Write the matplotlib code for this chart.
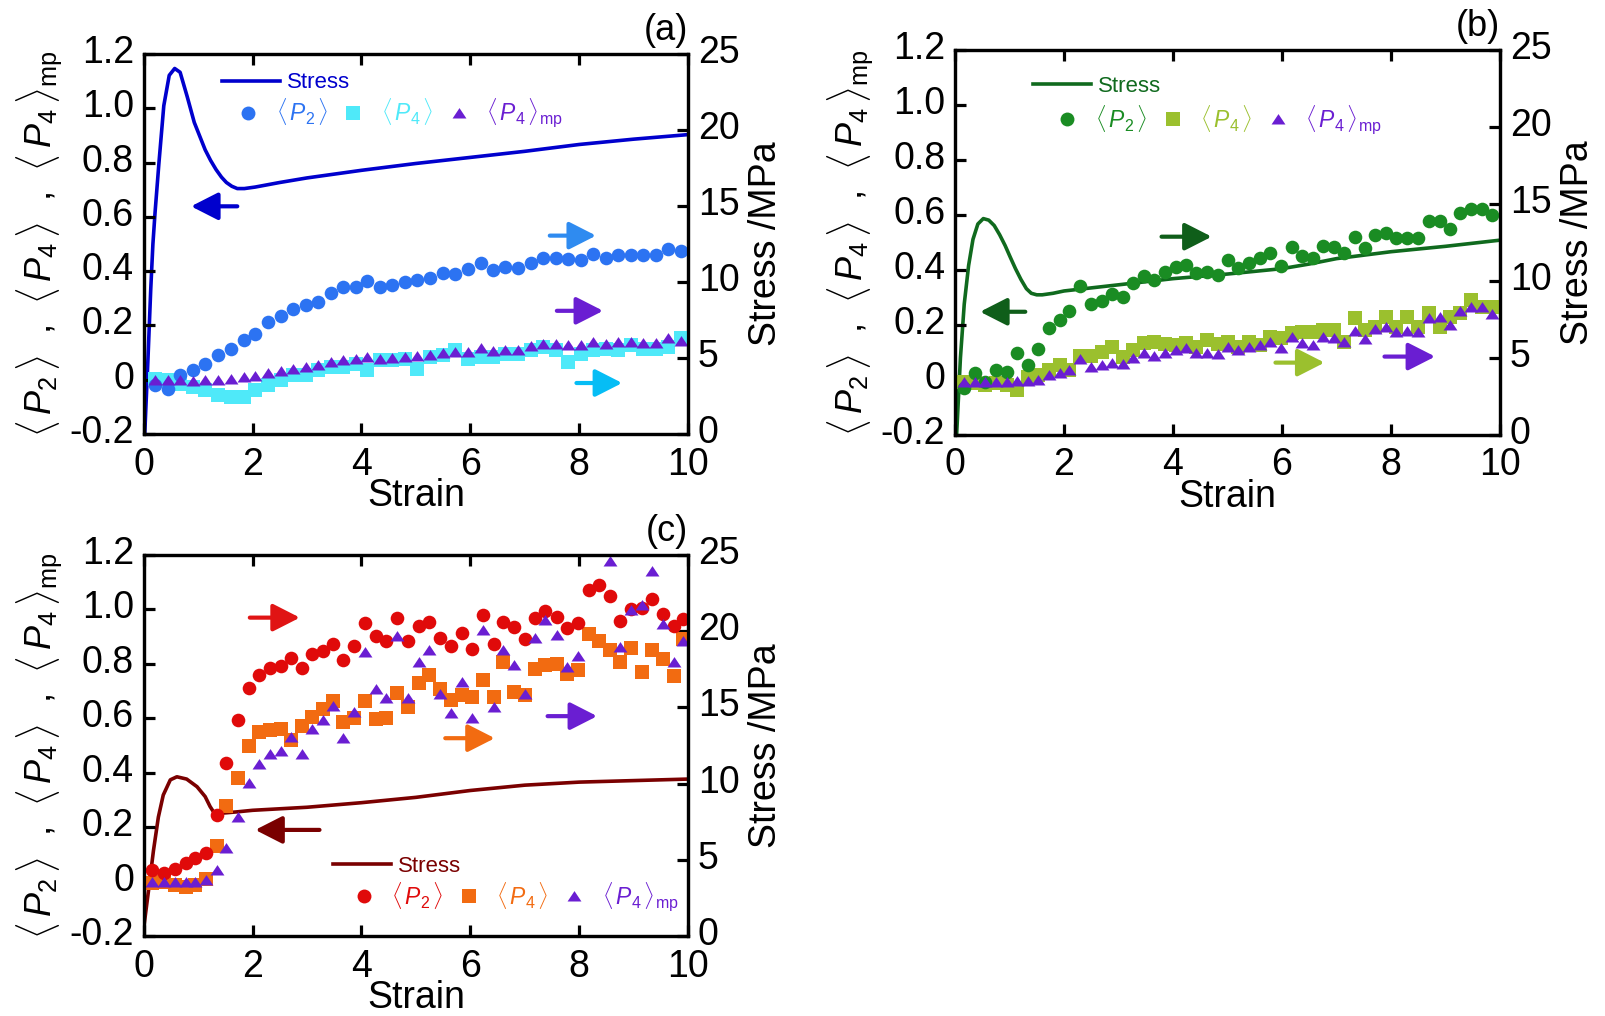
import matplotlib
matplotlib.use('Agg')
import matplotlib.pyplot as plt
from matplotlib.lines import Line2D
from matplotlib.transforms import ScaledTranslation

plt.rcParams['font.family'] = ['Liberation Sans', 'DejaVu Sans']
plt.rcParams['mathtext.fontset'] = 'custom'
plt.rcParams['mathtext.rm'] = 'Liberation Sans'
plt.rcParams['mathtext.it'] = 'Liberation Sans:italic'
plt.rcParams['mathtext.bf'] = 'Liberation Sans:bold'

# ---- panel (a) ----
strain_a = [0.20, 0.44, 0.67, 0.90, 1.13, 1.36, 1.61, 1.84, 2.05, 2.28, 2.52, 2.75, 2.98, 3.21,
            3.44, 3.67, 3.90, 4.11, 4.34, 4.57, 4.80, 5.03, 5.26, 5.50, 5.72, 5.95, 6.19, 6.41,
            6.64, 6.88, 7.11, 7.34, 7.57, 7.80, 8.03, 8.26, 8.49, 8.72, 8.95, 9.18, 9.41, 9.63, 9.87]
p2_a = [-0.021, -0.033, 0.016, 0.035, 0.059, 0.090, 0.115, 0.148, 0.170, 0.213, 0.234, 0.259, 0.275,
        0.288, 0.318, 0.341, 0.341, 0.365, 0.343, 0.349, 0.359, 0.368, 0.374, 0.392, 0.390, 0.407,
        0.429, 0.405, 0.417, 0.411, 0.429, 0.448, 0.450, 0.444, 0.442, 0.463, 0.450, 0.460, 0.460,
        0.460, 0.460, 0.481, 0.473]
p4_a = [0.004, -0.002, -0.015, -0.027, -0.039, -0.058, -0.064, -0.062, -0.039, -0.021, -0.002, 0.016,
        0.016, 0.035, 0.047, 0.047, 0.059, 0.035, 0.072, 0.072, 0.078, 0.041, 0.084, 0.090, 0.109,
        0.078, 0.084, 0.084, 0.096, 0.096, 0.109, 0.121, 0.109, 0.065, 0.096, 0.109, 0.115, 0.109,
        0.127, 0.115, 0.115, 0.121, 0.152]
p4mp_a = [-0.002, 0.0, -0.002, -0.005, -0.002, 0.0, 0.004, 0.010, 0.012, 0.025, 0.031, 0.041, 0.047,
          0.053, 0.065, 0.074, 0.078, 0.084, 0.078, 0.080, 0.084, 0.086, 0.093, 0.099, 0.102, 0.102,
          0.118, 0.106, 0.111, 0.109, 0.123, 0.131, 0.131, 0.127, 0.127, 0.139, 0.131, 0.139, 0.139,
          0.136, 0.136, 0.152, 0.143]
stress_x_a = [0.02, 0.08, 0.13, 0.17, 0.21, 0.28, 0.37, 0.47, 0.57, 0.67, 0.80, 0.93, 1.03, 1.13,
              1.23, 1.33, 1.43, 1.52, 1.62, 1.72, 1.85, 2.05, 2.5, 3.0, 3.5, 4.0, 5.0, 6.0, 7.0,
              8.0, 9.0, 10.0]
stress_a = [0.0, 5.0, 9.5, 12.5, 14.6, 17.8, 21.6, 23.6, 24.05, 23.8, 22.2, 20.5, 19.6, 18.7,
            18.0, 17.4, 16.9, 16.55, 16.3, 16.15, 16.15, 16.25, 16.55, 16.85, 17.1, 17.35, 17.8,
            18.2, 18.6, 19.05, 19.4, 19.7]

# ---- panel (b) ----
strain_b = [0.16, 0.36, 0.56, 0.75, 0.95, 1.14, 1.34, 1.52, 1.73, 1.93, 2.10, 2.30, 2.50, 2.69,
            2.89, 3.08, 3.27, 3.46, 3.66, 3.86, 4.05, 4.24, 4.43, 4.63, 4.82, 5.00, 5.20, 5.39,
            5.59, 5.78, 5.98, 6.18, 6.37, 6.57, 6.76, 6.96, 7.14, 7.34, 7.52, 7.71, 7.91, 8.10,
            8.30, 8.50, 8.69, 8.89, 9.08, 9.27, 9.46, 9.66, 9.86]
p2_b = [-0.030, 0.024, -0.006, 0.036, 0.030, 0.097, 0.055, 0.112, 0.188, 0.218, 0.252, 0.342, 0.275,
        0.287, 0.313, 0.301, 0.351, 0.378, 0.364, 0.391, 0.412, 0.417, 0.388, 0.394, 0.382, 0.436,
        0.406, 0.427, 0.442, 0.461, 0.415, 0.485, 0.451, 0.442, 0.487, 0.482, 0.461, 0.521, 0.479,
        0.527, 0.533, 0.515, 0.515, 0.515, 0.579, 0.579, 0.548, 0.608, 0.621, 0.621, 0.600]
p4_b = [-0.006, -0.012, -0.018, -0.012, -0.018, -0.036, 0.010, 0.018, 0.036, 0.055, 0.036, 0.087,
        0.087, 0.103, 0.121, 0.085, 0.109, 0.133, 0.139, 0.131, 0.127, 0.133, 0.121, 0.145, 0.131,
        0.139, 0.121, 0.139, 0.127, 0.158, 0.152, 0.170, 0.176, 0.176, 0.182, 0.182, 0.139, 0.224,
        0.182, 0.194, 0.230, 0.194, 0.230, 0.194, 0.242, 0.194, 0.230, 0.242, 0.291, 0.267, 0.267]
p4mp_b = [-0.006, -0.006, -0.006, -0.006, -0.006, -0.002, -0.002, 0.0, 0.018, 0.027, 0.036, 0.075,
          0.046, 0.055, 0.063, 0.058, 0.079, 0.097, 0.087, 0.099, 0.109, 0.115, 0.097, 0.097, 0.095,
          0.121, 0.109, 0.119, 0.127, 0.139, 0.115, 0.155, 0.133, 0.127, 0.158, 0.152, 0.139, 0.179,
          0.148, 0.184, 0.191, 0.176, 0.179, 0.176, 0.224, 0.230, 0.200, 0.252, 0.267, 0.264, 0.240]
stress_x_b = [0.03, 0.10, 0.17, 0.25, 0.33, 0.42, 0.52, 0.62, 0.72, 0.82, 0.92, 1.02, 1.11, 1.21,
              1.31, 1.40, 1.50, 1.60, 1.80, 2.0, 3.0, 4.0, 5.0, 6.0, 6.5, 7.0, 8.0, 9.0, 10.0]
stress_b = [0.0, 5.0, 8.5, 11.0, 12.7, 13.7, 14.05, 13.95, 13.6, 13.0, 12.3, 11.5, 10.8, 10.1,
            9.5, 9.2, 9.1, 9.1, 9.2, 9.35, 9.75, 10.15, 10.45, 10.8, 11.1, 11.45, 11.9, 12.25, 12.65]

# ---- panel (c) ----
strain_c = [0.16, 0.37, 0.57, 0.77, 0.95, 1.14, 1.34, 1.52, 1.73, 1.93, 2.12, 2.32, 2.52, 2.71,
            2.91, 3.10, 3.29, 3.48, 3.67, 3.87, 4.07, 4.26, 4.46, 4.66, 4.85, 5.05, 5.25, 5.44,
            5.64, 5.84, 6.03, 6.23, 6.43, 6.60, 6.80, 7.00, 7.18, 7.38, 7.59, 7.78, 7.98, 8.18,
            8.37, 8.57, 8.75, 8.95, 9.15, 9.34, 9.54, 9.74, 9.91]
p2_c = [0.042, 0.030, 0.048, 0.067, 0.087, 0.105, 0.246, 0.436, 0.594, 0.711, 0.760, 0.784, 0.791,
        0.821, 0.784, 0.836, 0.848, 0.873, 0.814, 0.864, 0.949, 0.901, 0.885, 0.970, 0.885, 0.939,
        0.954, 0.897, 0.864, 0.913, 0.854, 0.978, 0.873, 0.954, 0.937, 0.893, 0.970, 0.994, 0.973,
        0.933, 0.949, 1.073, 1.091, 1.048, 0.958, 1.000, 1.006, 1.039, 0.985, 0.939, 0.966]
p4_c = [-0.006, 0.0, -0.012, -0.018, -0.012, 0.008, 0.130, 0.279, 0.379, 0.497, 0.549, 0.558, 0.561,
        0.521, 0.570, 0.606, 0.636, 0.663, 0.588, 0.600, 0.663, 0.598, 0.602, 0.694, 0.642, 0.731,
        0.758, 0.709, 0.667, 0.685, 0.679, 0.739, 0.679, 0.808, 0.697, 0.687, 0.782, 0.796, 0.800,
        0.764, 0.776, 0.911, 0.885, 0.851, 0.806, 0.857, 0.772, 0.851, 0.818, 0.755, 0.891]
p4mp_c = [0.0, 0.0, 0.0, 0.0, 0.0, 0.005, 0.042, 0.125, 0.236, 0.364, 0.433, 0.469, 0.481, 0.533,
          0.469, 0.561, 0.594, 0.646, 0.527, 0.624, 0.842, 0.707, 0.675, 0.903, 0.675, 0.806, 0.852,
          0.691, 0.618, 0.733, 0.600, 0.925, 0.642, 0.852, 0.797, 0.691, 0.897, 0.961, 0.907, 0.788,
          0.828, 1.26, 1.24, 1.179, 0.861, 0.997, 1.016, 1.142, 0.948, 0.806, 0.885]
stress_x_c = [0.0, 0.09, 0.18, 0.27, 0.36, 0.49, 0.61, 0.79, 0.98, 1.13, 1.22, 1.31, 1.40, 1.72,
              2.0, 3.0, 4.0, 5.0, 6.0, 7.0, 8.0, 9.0, 10.0]
stress_c = [0.5, 3.0, 5.6, 7.8, 9.25, 10.25, 10.45, 10.3, 9.8, 9.15, 8.5, 8.0, 8.05, 8.15,
            8.25, 8.45, 8.75, 9.1, 9.55, 9.9, 10.1, 10.2, 10.3]

y_ticks = [-0.2, 0, 0.2, 0.4, 0.6, 0.8, 1.0, 1.2]
y_ticklabels = ['-0.2', '0', '0.2', '0.4', '0.6', '0.8', '1.0', '1.2']
stress_ticks = [0, 5, 10, 15, 20, 25]
strain_ticks = [0, 2, 4, 6, 8, 10]

PURPLE = '#6A1ED2'
TRI = [(-1, -0.72), (1, -0.72), (0, 0.78)]
LBL_P2 = r'$\langle\,P_2\,\rangle$'
LBL_P4 = r'$\langle\,P_4\,\rangle$'
LBL_MP = r'$\langle\,P_4\,\rangle_{\rm mp}$'
YLABEL = (r'$\langle\,P_2\,\rangle$  ,  $\langle\,P_4\,\rangle$  ,  '
          r'$\langle\,P_4\,\rangle_{\rm mp}$')

fig = plt.figure(figsize=(16.05, 10.16), dpi=100)
lift = ScaledTranslation(0, 5 / 100, fig.dpi_scale_trans)   # y tick labels sit a bit high


def panel(rect, tag, strain, p2, p4, p4mp, sx, sy, c_s, c_p2, c_p4, arrows, leg1, leg2):
    ax = fig.add_axes(rect)
    ax2 = ax.twinx()
    ax.set_zorder(ax2.get_zorder() + 1)
    ax.patch.set_visible(False)

    ax2.plot(sx, sy, color=c_s, lw=2.6, solid_capstyle='round')
    ax.plot(strain, p4, ls='', marker='s', ms=9.5, color=c_p4, mew=0)
    ax.plot(strain, p2, ls='', marker='o', ms=9.8, color=c_p2, mew=0)
    ax.plot(strain, p4mp, ls='', marker=TRI, ms=10, color=PURPLE, mew=0)

    ax.set_xlim(0, 10)
    ax.set_ylim(-0.2, 1.2)
    ax2.set_ylim(0, 25)
    ax.set_xticks(strain_ticks)
    ax.set_yticks(y_ticks)
    ax.set_yticklabels(y_ticklabels)
    ax2.set_yticks(stress_ticks)
    for a in (ax, ax2):
        for sp in a.spines.values():
            sp.set_linewidth(2.3)
    ax.tick_params(direction='in', length=8, width=2.3, labelsize=27, pad=7, top=True)
    ax.tick_params(axis='x', pad=9)
    ax2.tick_params(direction='in', length=8, width=2.3, labelsize=27, pad=7)
    for lab in ax.get_yticklabels() + ax2.get_yticklabels():
        lab.set_transform(lab.get_transform() + lift)
    ax.set_xlabel('Strain', fontsize=27, labelpad=-3)
    ax.set_ylabel(YLABEL, fontsize=26, labelpad=4)
    ax2.set_ylabel('Stress /MPa', fontsize=27, labelpad=6)
    ax.text(1.0, 1.015, tag, transform=ax.transAxes, ha='right', va='bottom', fontsize=26)

    for tail, head, col in arrows:
        ax.annotate('', xy=head, xytext=tail,
                    arrowprops=dict(arrowstyle='-|>,head_length=0.55,head_width=0.28',
                                    color=col, lw=3, mutation_scale=30, shrinkA=0, shrinkB=0))

    l1 = ax.legend(handles=[Line2D([], [], color=c_s, lw=2.6)], labels=['Stress'],
                   loc='center left', bbox_to_anchor=leg1, frameon=False, fontsize=16,
                   handlelength=2.6, handletextpad=0.3, borderpad=0, borderaxespad=0,
                   labelcolor=[c_s])
    ax.add_artist(l1)
    hs = [Line2D([], [], ls='', marker='o', ms=10, color=c_p2, mew=0),
          Line2D([], [], ls='', marker='s', ms=9.5, color=c_p4, mew=0),
          Line2D([], [], ls='', marker=TRI, ms=10, color=PURPLE, mew=0)]
    ax.legend(handles=hs, labels=[LBL_P2, LBL_P4, LBL_MP], ncol=3, loc='center left',
              bbox_to_anchor=leg2, frameon=False, fontsize=16.5, handlelength=1.0,
              handletextpad=0.7, columnspacing=0.6, borderpad=0, borderaxespad=0,
              labelcolor=[c_p2, c_p4, PURPLE])
    return ax


panel([0.0895, 0.5728, 0.3392, 0.3740], '(a)', strain_a, p2_a, p4_a, p4mp_a,
      stress_x_a, stress_a, '#0000CD', '#2C73F2', '#4FE9F9',
      [((1.72, 0.639), (0.87, 0.639), '#0000CD'),
       ((7.46, 0.531), (8.31, 0.531), '#2F8BF0'),
       ((7.59, 0.254), (8.44, 0.254), PURPLE),
       ((7.95, -0.012), (8.79, -0.012), '#06BDF5')],
      (0.144, 0.924), (0.171, 0.845))

panel([0.5950, 0.5719, 0.3396, 0.3789], '(b)', strain_b, p2_b, p4_b, p4mp_b,
      stress_x_b, stress_b, '#106A1E', '#1A8C23', '#9BC02E',
      [((1.29, 0.248), (0.46, 0.248), '#0F5E1A'),
       ((3.79, 0.521), (4.71, 0.521), '#0F5E1A'),
       ((5.88, 0.063), (6.78, 0.063), '#9BC02E'),
       ((7.88, 0.085), (8.81, 0.085), PURPLE)],
      (0.144, 0.905), (0.185, 0.820))

panel([0.0895, 0.0787, 0.3392, 0.3750], '(c)', strain_c, p2_c, p4_c, p4mp_c,
      stress_x_c, stress_c, '#7A0000', '#E00A0A', '#F26B11',
      [((3.23, 0.190), (2.05, 0.190), '#7A0000'),
       ((1.95, 0.970), (2.87, 0.970), '#E01414'),
       ((7.42, 0.608), (8.33, 0.608), PURPLE),
       ((5.54, 0.527), (6.45, 0.527), '#F26B11')],
      (0.348, 0.182), (0.383, 0.105))

fig.savefig('out.png', dpi=100)
